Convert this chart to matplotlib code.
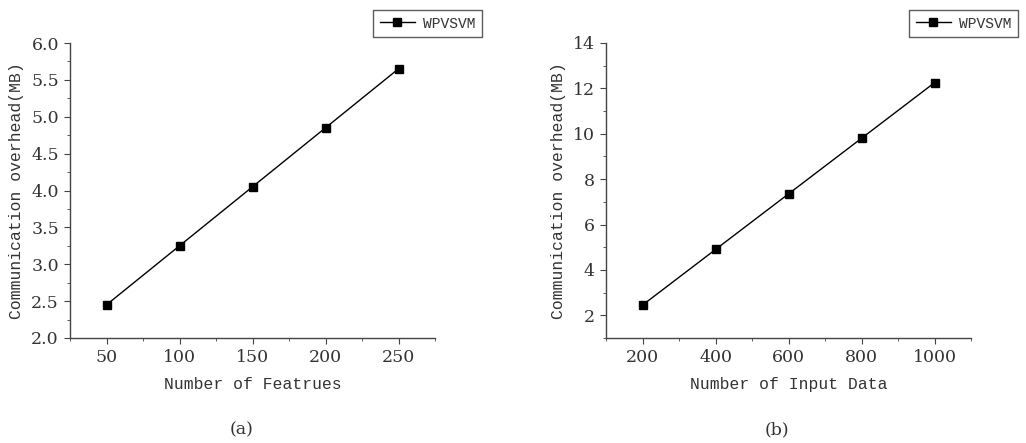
import matplotlib
matplotlib.use("Agg")
import matplotlib.pyplot as plt
from matplotlib.ticker import MultipleLocator

# panel (a)
features = [50, 100, 150, 200, 250]
overhead_a = [2.45, 3.25, 4.05, 4.85, 5.65]

# panel (b)
input_data = [200, 400, 600, 800, 1000]
overhead_b = [2.45, 4.9, 7.35, 9.8, 12.25]

series_name = "WPVSVM"
ylabel = "Communication overhead(MB)"

TXT = "#333333"
LABEL_FONT = "Liberation Mono"
TICK_FONT = "DejaVu Serif"


def style_axes(ax):
    for s in ax.spines.values():
        s.set_color("#444444")
        s.set_linewidth(1.0)
    ax.spines["top"].set_visible(False)
    ax.spines["right"].set_visible(False)
    ax.tick_params(which="both", direction="out", colors="#444444", labelcolor=TXT)
    ax.tick_params(which="major", length=4.5)
    ax.tick_params(which="minor", length=2.5)
    for lab in ax.get_xticklabels() + ax.get_yticklabels():
        lab.set_fontfamily(TICK_FONT)
        lab.set_fontsize(12.5)


def add_legend(ax, x0, y0):
    leg = ax.legend(loc="lower left", bbox_to_anchor=(x0, y0), frameon=True,
                    fancybox=False, handlelength=2.4, handletextpad=0.6,
                    borderpad=0.45, borderaxespad=0,
                    prop={"family": LABEL_FONT, "size": 10.5})
    leg.get_frame().set_edgecolor("#333333")
    leg.get_frame().set_linewidth(1.0)
    for t in leg.get_texts():
        t.set_color(TXT)


fig = plt.figure(figsize=(10.26, 4.43), dpi=100)
ax1 = fig.add_axes([70 / 1026, 1 - 338 / 443, 365 / 1026, 295 / 443])
ax2 = fig.add_axes([606 / 1026, 1 - 338 / 443, 365 / 1026, 295 / 443])

ax1.plot(features, overhead_a, color="black", lw=1.0, marker="s", ms=5.5, label=series_name)
ax1.set_xlim(25, 275)
ax1.set_ylim(2.0, 6.0)
ax1.set_xticks(features)
ax1.xaxis.set_minor_locator(MultipleLocator(25))
ax1.yaxis.set_major_locator(MultipleLocator(0.5))
ax1.yaxis.set_minor_locator(MultipleLocator(0.25))
ax1.yaxis.set_major_formatter(matplotlib.ticker.FormatStrFormatter("%.1f"))
ax1.set_xlabel("Number of Featrues", family=LABEL_FONT, fontsize=11.8, color=TXT, labelpad=8)
ax1.set_ylabel(ylabel, family=LABEL_FONT, fontsize=11.8, color=TXT, labelpad=5)
style_axes(ax1)
add_legend(ax1, 0.83, 1.02)

ax2.plot(input_data, overhead_b, color="black", lw=1.0, marker="s", ms=5.5, label=series_name)
ax2.set_xlim(100, 1100)
ax2.set_ylim(1, 14)
ax2.set_xticks(input_data)
ax2.xaxis.set_minor_locator(MultipleLocator(100))
ax2.set_yticks([2, 4, 6, 8, 10, 12, 14])
ax2.yaxis.set_minor_locator(MultipleLocator(1))
ax2.set_xlabel("Number of Input Data", family=LABEL_FONT, fontsize=11.8, color=TXT, labelpad=8)
ax2.set_ylabel(ylabel, family=LABEL_FONT, fontsize=11.8, color=TXT, labelpad=5)
style_axes(ax2)
add_legend(ax2, 0.83, 1.02)

fig.text(242 / 1026, 1 - 430 / 443, "(a)", ha="center", va="center",
         family="DejaVu Serif", fontsize=12.5, color=TXT)
fig.text(777 / 1026, 1 - 430 / 443, "(b)", ha="center", va="center",
         family="DejaVu Serif", fontsize=12.5, color=TXT)

fig.savefig("out.png", dpi=100)
